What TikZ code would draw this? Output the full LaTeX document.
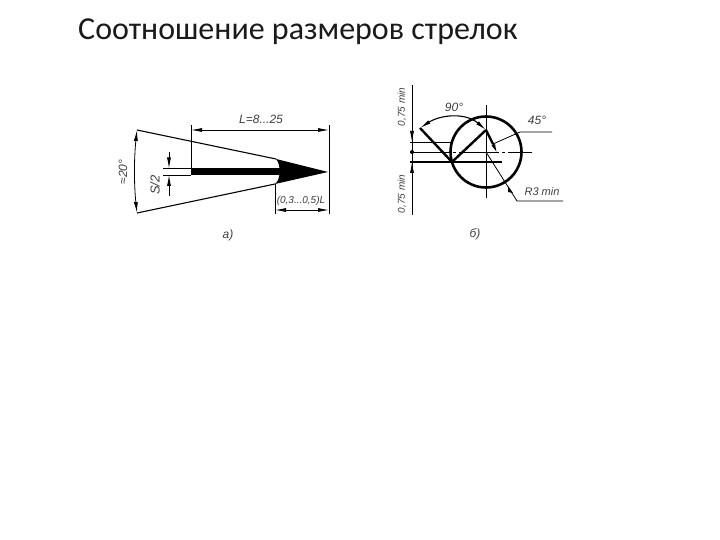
\documentclass[tikz,border=0pt]{standalone}
\usepackage{fontspec}
\setmainfont{Carlito}
\newfontfamily\gostfont{Liberation Sans}
\usetikzlibrary{arrows.meta}
\definecolor{titlegray}{HTML}{1A1A1A}
\definecolor{labelgray}{HTML}{404040}
\tikzset{
  thinl/.style={draw=black,line width=0.8pt},
  thickl/.style={draw=black,line width=2.4pt},
  dimarrow/.style={thinl,{Latex[length=11pt,width=4pt]}-{Latex[length=11pt,width=4pt]}},
  endarrow/.style={thinl,-{Latex[length=11pt,width=4pt]}},
  gostlabel/.style={inner sep=0pt,text=labelgray,font=\gostfont\itshape\fontsize{12}{12}\selectfont},
  smalllabel/.style={gostlabel,font=\gostfont\itshape\fontsize{10}{10}\selectfont},
  titletext/.style={inner sep=0pt,anchor=west,text=titlegray,font=\fontsize{32}{34}\selectfont}
}
\begin{document}
\begin{tikzpicture}[x=1pt,y=-1pt]
\useasboundingbox (0,0) rectangle (720,540);
\fill[white] (0,0) rectangle (720,540);
\node[titletext] (title) at (78,32) {Соотношение размеров стрелок};
% --- view a
\coordinate (apex) at (328,172);
\coordinate (ut) at (137,130);
\coordinate (ub) at (137,213);
\coordinate (hu) at (276,159);
\coordinate (hl) at (275,184);
\draw[thinl,line width=1.1pt] (ut) -- (hu);
\draw[thinl,line width=1.1pt] (ub) -- (hl);
\fill[black] (hu) -- (apex) -- (hl) .. controls (281,180) and (281,164) .. (hu) -- cycle;
\fill[black] (191,168.5) rectangle (282,175);
\draw[thinl] (191,125) -- (191,168);
\draw[thinl] (329,125) -- (329,214);
\draw[thinl] (275,184) -- (275,214);
\draw[dimarrow] (191,130) -- (329,130);
\draw[dimarrow] (275,210) -- (329,210);
\draw[thinl] (163,168.5) -- (191,168.5);
\draw[thinl] (163,175) -- (191,175);
\draw[endarrow] (169,152) -- (169,168.5);
\draw[endarrow] (169,196) -- (169,175);
\draw[thinl,{Latex[length=11pt,width=4pt]}-{Latex[length=11pt,width=4pt]}] (ut) .. controls (134,158) and (134,185) .. (ub);
\node[gostlabel] (lval) at (261,119) {L=8...25};
\node[smalllabel] (fr) at (301,201) {(0,3...0,5)L};
\node[gostlabel,rotate=90,font=\gostfont\itshape\fontsize{13}{13}\selectfont] (sh) at (155,185) {S/2};
\node[gostlabel,rotate=90] (ang) at (123,172) {≈20°};
\node[gostlabel] (capa) at (228,235) {а)};
% --- view b
\coordinate (cc) at (486,152);
\coordinate (tip) at (452,162);
\draw[thickl,line width=2.6pt] (cc) circle (35.5);
\draw[thinl] (486,105) -- (486,198);
\draw[thinl,dash pattern=on 40pt off 3pt on 3pt off 3pt] (410,152) -- (532,152);
\draw[thinl] (410,142) -- (452,142);
\draw[thinl,line width=1.1pt] (410,162) -- (502,162);
\draw[thinl] (412,85) -- (412,215);
\draw[endarrow] (412,128) -- (412,142);
\draw[endarrow] (412,176) -- (412,162);
\fill[black] (412,152) circle (2);
\draw[thickl] (tip) -- (420,128);
\draw[thickl] (tip) -- (486,130);
\draw[thickl] (486,130) -- (493,144);
\draw[thinl,line width=1.2pt,-{Latex[length=9pt,width=4pt]}] (493,144) -- (497,153);
\draw[thinl,{Latex[length=11pt,width=4pt]}-{Latex[length=11pt,width=4pt]},line width=1.1pt] (420,128) .. controls (440,115) and (465,112) .. (486,130);
\draw[thinl] (493,144) -- (520,132) -- (552,132);
\draw[thinl] (cc) -- (517,201) -- (563,201);
\fill[black] (508,186) -- (513,193) -- (508,192) -- cycle;
\node[gostlabel] (n90) at (454,107) {90°};
\node[gostlabel] (n45) at (537,120) {45°};
\node[smalllabel,font=\gostfont\itshape\fontsize{11}{11}\selectfont] (nr) at (542,192) {R3 min};
\node[smalllabel,rotate=90] (t1) at (402,107) {0,75 min};
\node[smalllabel,rotate=90] (t2) at (402,194) {0,75 min};
\node[gostlabel] (capb) at (475,234) {б)};
\end{tikzpicture}
\end{document}
